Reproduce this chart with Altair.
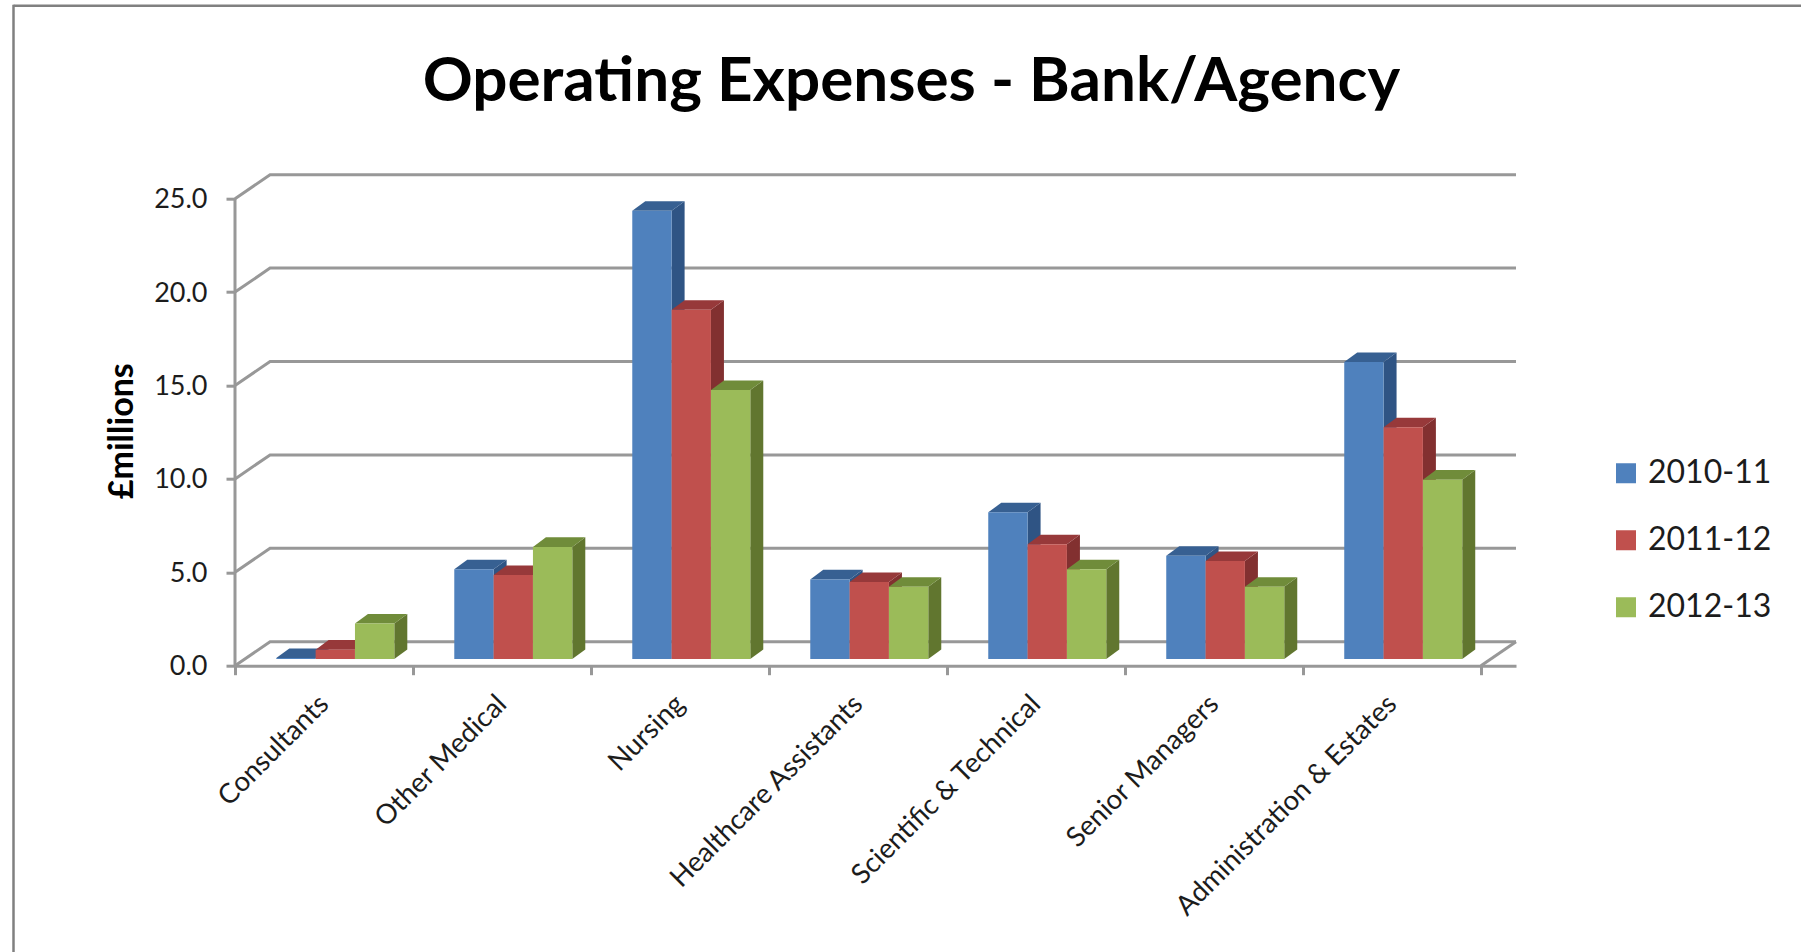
import altair as alt
import pandas as pd

# Spending by staff group, in £ millions
categories = ["Consultants", "Other Medical", "Nursing", "Healthcare Assistants",
              "Scientific & Technical", "Senior Managers", "Administration & Estates"]
years = ["2010-11", "2011-12", "2012-13"]
values_2010 = [0.05, 4.8, 24.0, 4.26, 7.85, 5.53, 15.9]
values_2011 = [0.5, 4.5, 18.7, 4.12, 6.14, 5.25, 12.4]
values_2012 = [1.9, 6.0, 14.4, 3.87, 4.8, 3.87, 9.6]
ticks = [0, 5, 10, 15, 20, 25]
chart_title = "Operating Expenses - Bank/Agency"

front_colors = ["#4F81BD", "#C0504D", "#9BBB59"]
top_colors = ["#376092", "#97393A", "#708C3A"]
side_colors = ["#2F5484", "#823030", "#61762F"]

# Oblique projection: depth of the walls and of the bars, in axis units
WALL_DX, WALL_DY = 0.197, 1.285
BAR_DX, BAR_DY = 0.073, 0.51
BAR_LIFT = 0.36
BAR_START, BAR_WIDTH = 0.232, 0.221
X_MAX, Y_MAX = 7 + WALL_DX, 25 + WALL_DY

x_scale = alt.Scale(domain=[0, X_MAX], nice=False, zero=False)
y_scale = alt.Scale(domain=[0, Y_MAX], nice=False, zero=False)

fronts, tops, sides = [], [], []
series = [values_2010, values_2011, values_2012]
for s, vals in enumerate(series):
    for c, v in enumerate(vals):
        left = c + BAR_START + s * BAR_WIDTH
        right = left + BAR_WIDTH
        low = BAR_LIFT
        high = BAR_LIFT + v
        bar = f"{s}-{c}"
        fronts.append(dict(year=years[s], category=categories[c], x=left, x2=right, y=low, y2=high))
        tops.append(dict(bar=bar, shade=top_colors[s], y=high, x=left, x2=right))
        tops.append(dict(bar=bar, shade=top_colors[s], y=high + BAR_DY, x=left + BAR_DX, x2=right + BAR_DX))
        sides.append(dict(bar=bar, shade=side_colors[s], x=right, y=high, y2=low))
        sides.append(dict(bar=bar, shade=side_colors[s], x=right + BAR_DX, y=high + BAR_DY, y2=low + BAR_DY))

# Left wall diagonal plus back wall line for each gridline, and the floor's right edge
wall = []
for v in ticks:
    wall += [dict(line=v, step=0, x=0, y=v),
             dict(line=v, step=1, x=WALL_DX, y=v + WALL_DY),
             dict(line=v, step=2, x=X_MAX, y=v + WALL_DY)]
wall += [dict(line=-1, step=0, x=7, y=0), dict(line=-1, step=1, x=X_MAX, y=WALL_DY)]

GREY = "#989898"
TEXT = "#1c1c1c"
FONT = "Lato"

walls = alt.Chart(pd.DataFrame(wall)).mark_line(color=GREY, strokeWidth=3).encode(
    x=alt.X("x:Q", scale=x_scale,
            axis=alt.Axis(values=list(range(8)), title=None, grid=False, domainColor=GREY, domainWidth=3,
                          tickColor=GREY, tickWidth=3, tickSize=9, labelAngle=-45, labelAlign="right",
                          labelBaseline="middle", labelOffset=89, labelPadding=25, labelFont=FONT,
                          labelFontSize=27.5, labelColor=TEXT, labelOverlap=False, labelBound=False,
                          labelFlush=False, labelLimit=500,
                          labelExpr="datum.value < 7 ? " + str(categories) + "[datum.value] : ''")),
    y=alt.Y("y:Q", scale=y_scale,
            axis=alt.Axis(values=ticks, format=".1f", title="£millions", grid=False, domain=False,
                          tickColor=GREY, tickWidth=3, tickSize=9, labelFont=FONT, labelFontSize=27,
                          labelColor=TEXT, labelPadding=19, labelOffset=1, titleFont=FONT, titleFontSize=34,
                          titleFontWeight="bold", titleColor="#000000", titleX=-96, titleY=256)),
    detail="line:N",
    order="step:Q",
)

y_axis_line = alt.Chart(pd.DataFrame({"x": [0], "y": [0], "y2": [25]})).mark_rule(
    color=GREY, strokeWidth=3).encode(x="x:Q", y="y:Q", y2="y2:Q")

side_faces = alt.Chart(pd.DataFrame(sides)).mark_area().encode(
    x="x:Q", y="y:Q", y2="y2:Q", detail="bar:N", fill=alt.Fill("shade:N", scale=None))

top_faces = alt.Chart(pd.DataFrame(tops)).mark_area(orient="horizontal").encode(
    x="x:Q", x2="x2:Q", y="y:Q", detail="bar:N", fill=alt.Fill("shade:N", scale=None))

front_faces = alt.Chart(pd.DataFrame(fronts)).mark_rect().encode(
    x="x:Q", x2="x2:Q", y="y:Q", y2="y2:Q",
    color=alt.Color("year:N", scale=alt.Scale(domain=years, range=front_colors),
                    legend=alt.Legend(title=None, orient="none", legendX=1375, legendY=281,
                                      symbolType="square", symbolSize=400, symbolStrokeWidth=0,
                                      labelFont=FONT, labelFontSize=32, labelColor=TEXT,
                                      labelOffset=6, rowPadding=32, padding=0, clipHeight=35)),
)

# Outer frame of the chart, open at the right and bottom edges
frame_top = alt.Chart(pd.DataFrame({"a": [0]})).mark_rule(color="#808080", strokeWidth=2.5).encode(
    x=alt.value(-221.5), x2=alt.value(1570), y=alt.value(-169))
frame_left = alt.Chart(pd.DataFrame({"a": [0]})).mark_rule(color="#808080", strokeWidth=2.5).encode(
    x=alt.value(-221.5), y=alt.value(-170), y2=alt.value(790))

# Heading, placed above the plot area
heading = alt.Chart(pd.DataFrame({"label": [chart_title]})).mark_text(
    font=FONT, fontSize=62, fontWeight="bold", color="#000000", align="center", baseline="alphabetic"
).encode(text="label:N", x=alt.value(676.4), y=alt.value(-73.7))

chart = alt.layer(frame_top, frame_left, heading, walls, y_axis_line, side_faces, top_faces, front_faces).properties(
    width=1281,
    height=491,
    padding={"left": 235, "top": 174.7, "right": 285, "bottom": 286.3},
    autosize=alt.AutoSizeParams(type="none"),
    background="#ffffff",
).configure_view(stroke=None)

chart.save("out.html", embed_options={"renderer": "svg", "actions": False})
